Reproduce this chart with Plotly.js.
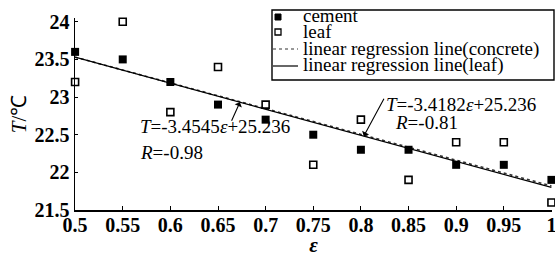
<!DOCTYPE html>
<html><head><meta charset="utf-8">
<script src="https://cdn.plot.ly/plotly-3.0.1.min.js"></script>
<style>html,body{margin:0;padding:0;background:#fff}#chart{width:555px;height:257px}</style>
</head><body><div id="chart"></div>
<script>
// ---- data ----
const epsilon = [0.5, 0.55, 0.6, 0.65, 0.7, 0.75, 0.8, 0.85, 0.9, 0.95, 1.0];
const cementT = [23.6, 23.5, 23.2, 22.9, 22.7, 22.5, 22.3, 22.3, 22.1, 22.1, 21.9];
const leafT   = [23.2, 24.0, 22.8, 23.4, 22.9, 22.1, 22.7, 21.9, 22.4, 22.4, 21.6];
const lineX = [0.5, 1.0];
const concreteLineY = [23.53, 21.82];
const leafLineY = [23.53, 21.80];
const xTicks = [0.5, 0.55, 0.6, 0.65, 0.7, 0.75, 0.8, 0.85, 0.9, 0.95, 1];
const xTickText = ['0.5','0.55','0.6','0.65','0.7','0.75','0.8','0.85','0.9','0.95','1'];
const yTicks = [21.5, 22, 22.5, 23, 23.5, 24];
const yTickText = ['21.5','22','22.5','23','23.5','24'];
const legendLabels = ['cement','leaf','linear regression line(concrete)','linear regression line(leaf)'];
const eq1 = ['<i>T</i>=-3.4545<i>ε</i>+25.236', '<i>R</i>=-0.98'];
const eq2 = ['<i>T</i>=-3.4182<i>ε</i>+25.236', '<i>R</i>=-0.81'];

// ---- layout helpers (pixel -> paper) ----
const L = 75, T = 18, W = 477, H = 192;
const px = x => (x - L) / W;
const py = y => (T + H - y) / H;
const FONT = '"Liberation Serif", "Times New Roman", serif';

const traces = [
  {x: lineX, y: concreteLineY, mode: 'lines', line: {color: '#333', width: 1.6, dash: 'dot'}, hoverinfo: 'skip'},
  {x: lineX, y: leafLineY, mode: 'lines', line: {color: '#000', width: 1.2}, hoverinfo: 'skip'},
  {x: epsilon, y: cementT, mode: 'markers', marker: {symbol: 'square', size: 8, color: '#000'}, cliponaxis: false},
  {x: epsilon, y: leafT, mode: 'markers', marker: {symbol: 'square-open', size: 7, color: '#000', line: {width: 1.6}}, cliponaxis: false}
];

const shapes = [
  {type: 'rect', xref: 'paper', yref: 'paper', x0: px(272), x1: px(554), y0: py(80), y1: py(10), line: {color: '#000', width: 1.4}, fillcolor: '#fff', layer: 'above'},
  {type: 'rect', xref: 'paper', yref: 'paper', x0: px(275), x1: px(281), y0: py(20), y1: py(14), line: {color: '#000', width: 1}, fillcolor: '#000', layer: 'above'},
  {type: 'rect', xref: 'paper', yref: 'paper', x0: px(275), x1: px(281), y0: py(35), y1: py(29), line: {color: '#000', width: 1.3}, fillcolor: '#fff', layer: 'above'},
  {type: 'line', xref: 'paper', yref: 'paper', x0: px(273), x1: px(298), y0: py(49), y1: py(49), line: {color: '#333', width: 1.2, dash: 'dot'}, layer: 'above'},
  {type: 'line', xref: 'paper', yref: 'paper', x0: px(273), x1: px(298), y0: py(66), y1: py(66), line: {color: '#000', width: 1.2}, layer: 'above'}
];

const legendRows = [16, 32, 49, 65];
const annotations = legendLabels.map((t, i) => ({
  xref: 'paper', yref: 'paper', x: px(301), y: py(legendRows[i]), xanchor: 'left', yanchor: 'middle',
  text: t, showarrow: false, font: {family: FONT, size: 19, color: '#000'}
}));
annotations.push(
  {xref: 'paper', yref: 'paper', x: px(138), y: py(126), xanchor: 'left', yanchor: 'middle', text: eq1[0], showarrow: false, font: {family: FONT, size: 19, color: '#000'}},
  {xref: 'paper', yref: 'paper', x: px(138), y: py(152), xanchor: 'left', yanchor: 'middle', text: eq1[1], showarrow: false, font: {family: FONT, size: 19, color: '#000'}},
  {xref: 'paper', yref: 'paper', x: px(384), y: py(104), xanchor: 'left', yanchor: 'middle', text: eq2[0], showarrow: false, font: {family: FONT, size: 19, color: '#000'}},
  {xref: 'paper', yref: 'paper', x: px(393), y: py(122), xanchor: 'left', yanchor: 'middle', text: eq2[1], showarrow: false, font: {family: FONT, size: 19, color: '#000'}},
  {x: 0.673, y: 22.93, xref: 'x', yref: 'y', text: '', showarrow: true, arrowhead: 1, arrowsize: 1.2, arrowwidth: 1.1, arrowcolor: '#000', ax: -9, ay: 20},
  {x: 0.803, y: 22.48, xref: 'x', yref: 'y', text: '', showarrow: true, arrowhead: 1, arrowsize: 1.2, arrowwidth: 1.1, arrowcolor: '#000', ax: 21, ay: -39}
);

const layout = {
  width: 555, height: 257,
  margin: {l: L, r: 555 - L - W, t: T, b: 257 - T - H, pad: 0},
  paper_bgcolor: '#fff', plot_bgcolor: '#fff',
  showlegend: false,
  font: {family: FONT, color: '#000'},
  xaxis: {
    range: [0.4999, 1.0006], tickvals: xTicks, ticktext: xTickText,
    showgrid: false, zeroline: false, showline: true, linecolor: '#000', linewidth: 1.5,
    ticks: 'inside', ticklen: 4, tickcolor: '#000', ticklabeloverflow: 'allow', ticklabelstandoff: -4,
    tickfont: {family: FONT, size: 20, color: '#000', weight: 'bold'},
    title: {text: '<i><b>ε</b></i>', font: {family: FONT, size: 21, color: '#000'}, standoff: 6}
  },
  yaxis: {
    range: [21.5, 24.05], tickvals: yTicks, ticktext: yTickText,
    showgrid: false, zeroline: false, showline: true, linecolor: '#000', linewidth: 1.5,
    ticks: 'inside', ticklen: 3, tickcolor: '#000',
    tickfont: {family: FONT, size: 20, color: '#000', weight: 'bold'},
    title: {text: '<i>T</i>/℃', font: {family: FONT, size: 21, color: '#000'}, standoff: 2}
  },
  shapes: shapes,
  annotations: annotations
};

Plotly.newPlot('chart', traces, layout, {displayModeBar: false, staticPlot: true});
</script></body></html>
